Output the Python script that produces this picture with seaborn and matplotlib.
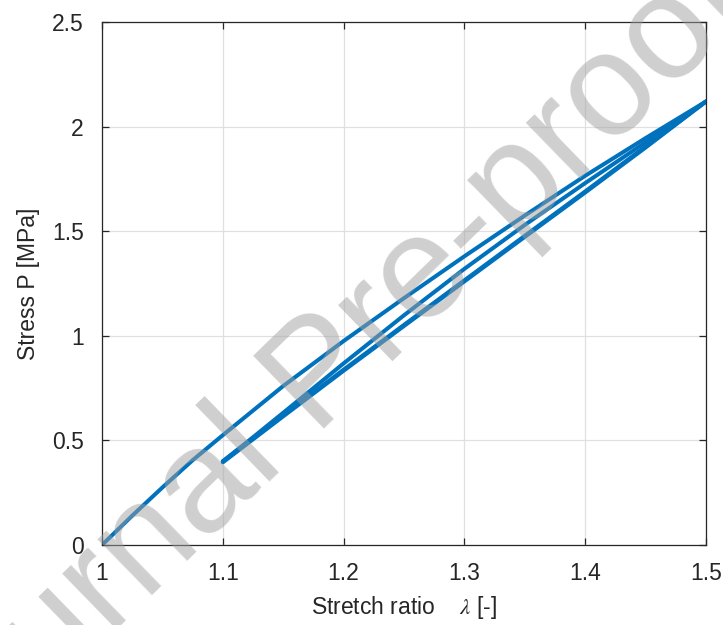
import numpy as np
import pandas as pd
import matplotlib
matplotlib.use("Agg")
import matplotlib.pyplot as plt
import seaborn as sns

# ---- data ----
load1_x = [1.0, 1.025, 1.05, 1.075, 1.1, 1.15, 1.2, 1.25, 1.3, 1.35, 1.4, 1.45, 1.5]
load1_y = [0.0, 0.14, 0.275, 0.405, 0.525, 0.76, 0.975, 1.18, 1.38, 1.575, 1.765, 1.945, 2.12]

unload1_x = [1.5, 1.45, 1.4, 1.35, 1.3, 1.25, 1.2, 1.15, 1.1]
unload1_y = [2.12, 1.905, 1.69, 1.478, 1.265, 1.052, 0.838, 0.62, 0.40]

reload1_x = [1.1, 1.125, 1.15, 1.175, 1.2, 1.25, 1.3, 1.35, 1.4, 1.45, 1.5]
reload1_y = [0.40, 0.515, 0.632, 0.75, 0.868, 1.098, 1.32, 1.53, 1.73, 1.925, 2.12]

unload2_x = [1.5, 1.45, 1.4, 1.35, 1.3, 1.25, 1.2, 1.15, 1.1]
unload2_y = [2.12, 1.90, 1.685, 1.473, 1.26, 1.047, 0.833, 0.615, 0.395]

x_ticks = [1.0, 1.1, 1.2, 1.3, 1.4, 1.5]
x_tick_labels = ["1", "1.1", "1.2", "1.3", "1.4", "1.5"]
y_ticks = [0, 0.5, 1.0, 1.5, 2.0, 2.5]
y_tick_labels = ["0", "0.5", "1", "1.5", "2", "2.5"]

segments = [(load1_x, load1_y), (unload1_x, unload1_y),
            (reload1_x, reload1_y), (unload2_x, unload2_y)]
frames = []
for i, (sx, sy) in enumerate(segments):
    frames.append(pd.DataFrame({"stretch": sx, "stress": sy, "seg": i}))
df = pd.concat(frames, ignore_index=True)

# ---- style ----
sns.set_style("white")
plt.rcParams["font.family"] = ["Liberation Sans", "DejaVu Sans"]
plt.rcParams["mathtext.fontset"] = "stix"

fig = plt.figure(figsize=(7.23, 6.25), dpi=100)
ax = fig.add_axes([102 / 723, 80 / 625, 604 / 723, 523 / 625])

sns.lineplot(data=df, x="stretch", y="stress", units="seg", estimator=None,
             sort=False, color="#0072BD", linewidth=2.9, ax=ax, legend=False,
             solid_capstyle="round", solid_joinstyle="round")

ax.set_xlim(1.0, 1.5)
ax.set_ylim(0, 2.5)
ax.set_xticks(x_ticks)
ax.set_xticklabels(x_tick_labels)
ax.set_yticks(y_ticks)
ax.set_yticklabels(y_tick_labels)

ax.grid(True, color="#e0e0e0", linewidth=0.9)
ax.set_axisbelow(True)
for s in ax.spines.values():
    s.set_visible(True)
    s.set_color("#262626")
    s.set_linewidth(0.9)
ax.tick_params(axis="x", pad=12)
ax.tick_params(axis="y", pad=13)
ax.tick_params(direction="in", length=5, width=0.9, color="#262626",
               labelsize=16.5, labelcolor="#262626",
               top=True, right=True, bottom=True, left=True)

ax.set_xlabel(r"Stretch ratio    $\lambda$ [-]", fontsize=16.5, color="#262626", labelpad=7)
ax.set_ylabel("Stress P [MPa]", fontsize=16.5, color="#262626", labelpad=9)

# watermark
fig.text(0.444, 0.395, "Journal Pre-proof", fontsize=106, color="#a0a0a0", alpha=0.5,
         rotation=44.2, ha="center", va="center", rotation_mode="anchor", zorder=10)

fig.savefig("out.png", dpi=100)
